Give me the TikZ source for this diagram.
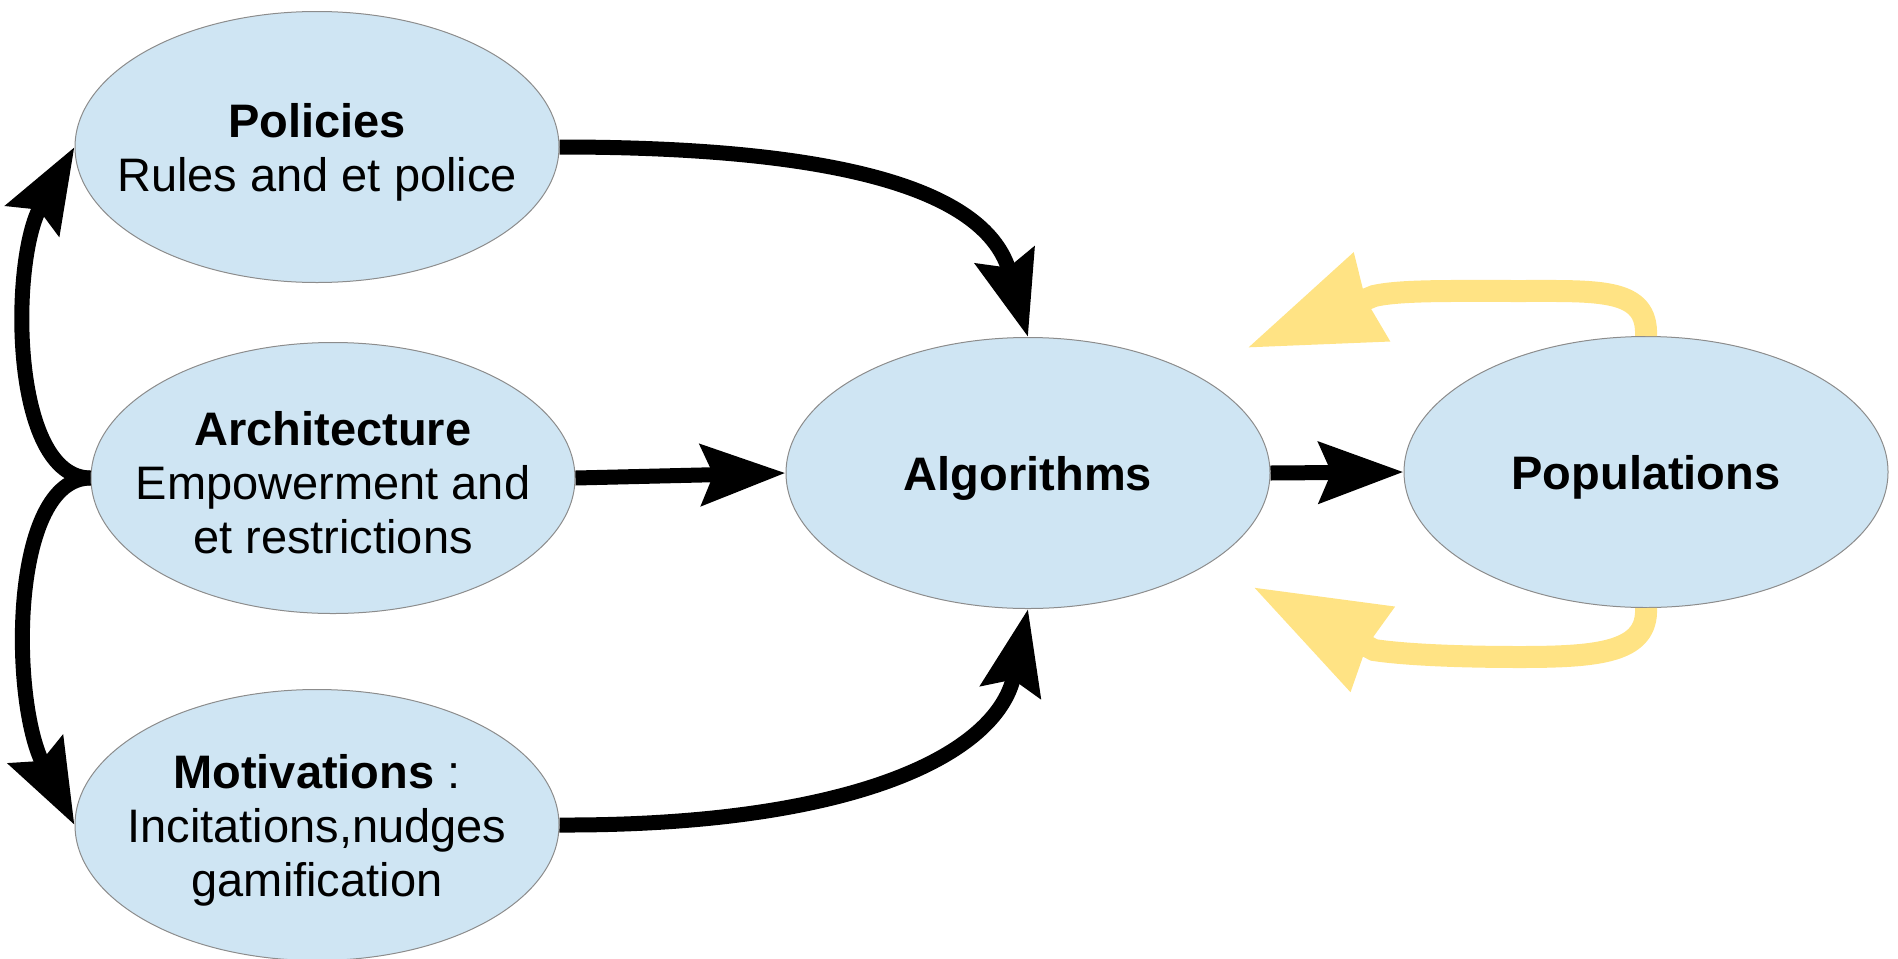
\documentclass[tikz,border=0pt]{standalone}
\usepackage{fontspec}
\setmainfont{Liberation Sans}
\usetikzlibrary{shapes.geometric,arrows.meta}
\definecolor{ellfill}{RGB}{207,229,243}
\definecolor{ellline}{RGB}{140,140,140}
\definecolor{yel}{RGB}{255,227,132}
\begin{document}
\begin{tikzpicture}[x=0.5pt,y=0.5pt,
  ell/.style={ellipse, draw=ellline, line width=0.5pt, fill=ellfill,
    minimum width=242pt, minimum height=135.5pt, inner sep=0pt},
  etext/.style={align=center, yshift=-2.5pt, font=\fontsize{23.5}{27}\selectfont},
  blk/.style={draw=black, line width=7.5pt, -{Stealth[length=42pt,width=30pt,inset=6pt]}},
  yarrow/.style={draw=yel, line width=11pt, -{Stealth[length=66pt,width=45pt,inset=2pt]}}]
\useasboundingbox (0,0) rectangle (1898,-958);
\clip (0,0) rectangle (1898,-958);
\node[ell, label={[etext]center:\textbf{Policies}\\Rules and et police}] (pol) at (317,-147) {};
\node[ell, label={[etext]center:\textbf{Architecture}\\Empowerment and\\et restrictions}] (arch) at (333,-478) {};
\node[ell, label={[etext]center:\textbf{Motivations} :\\Incitations,nudges\\gamification}] (mot) at (317,-825) {};
\node[ell, label={[etext]center:\textbf{Algorithms}}] (alg) at (1028,-473) {};
\node[ell, label={[etext]center:\textbf{Populations}}] (pop) at (1646,-472) {};
\coordinate (ytop) at (1247,-348);
\coordinate (ybot) at (1253,-587);
% black connectors
\draw[blk] (arch.west) .. controls (10,-478) and (10,-260) .. (pol.west);
\draw[blk] (arch.west) .. controls (10,-478) and (10,-700) .. (mot.west);
\draw[blk] (pol.east) .. controls (850,-147) and (987,-193) .. (alg.north);
\draw[blk] (mot.east) .. controls (850,-826) and (997,-756) .. (alg.south);
\draw[blk] (arch.east) -- (alg.west);
\draw[blk] (alg.east) -- (pop.west);
% yellow feedback
\draw[yarrow] (pop.north) .. controls (1648,-288) and (1600,-291) .. (1520,-291)
  .. controls (1450,-291) and (1400,-290) .. (1374,-296) -- (ytop);
\draw[yarrow] (pop.south) .. controls (1648,-652) and (1600,-657) .. (1520,-657)
  .. controls (1450,-657) and (1400,-654) .. (1374,-650) -- (ybot);
\end{tikzpicture}
\end{document}
